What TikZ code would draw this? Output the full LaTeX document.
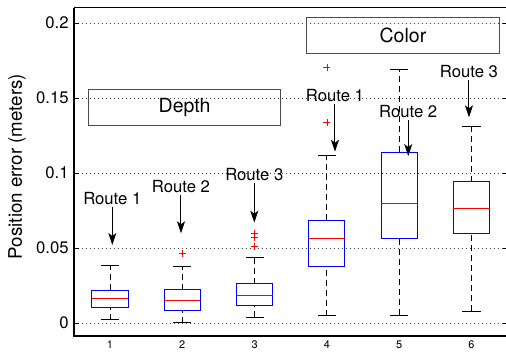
\documentclass[tikz,border=0pt]{standalone}
\usepackage{fontspec}
\setmainfont{TeX Gyre Heros}
\usetikzlibrary{arrows.meta}

\begin{document}
\begin{tikzpicture}[x=72.3pt, y=1500pt,
    gridl/.style={black!75, line width=0.7pt, dash pattern=on 0.8pt off 3.2pt},
    axisl/.style={black, line width=1.8pt},
    whisk/.style={black, line width=0.9pt, dash pattern=on 6pt off 4pt},
    capl/.style={black, line width=0.9pt},
    bx/.style={blue, line width=1pt},
    med/.style={red, line width=1pt},
    outl/.style={red, line width=0.8pt},
    ytick/.style={anchor=east, inner sep=0pt, font=\fontsize{16.7}{20}\selectfont},
    xtick/.style={anchor=north, inner sep=0pt, font=\fontsize{11}{13}\selectfont},
    route/.style={inner sep=2pt, font=\fontsize{16.7}{20}\selectfont},
    tagbox/.style={draw=black!70, line width=0.9pt, minimum width=192.6pt, minimum height=36.5pt,
                   inner sep=0pt, font=\fontsize{19.5}{23}\selectfont},
    arr/.style={-{Stealth[length=12pt,width=8pt,inset=3pt]}, line width=1pt}]
                            \useasboundingbox (-0.5214, -0.01933) rectangle (6.4772, 0.21533);
                            % Grid, ticks and axes:
                            \foreach \v/\t in {0/0, 0.05/0.05, 0.1/0.1, 0.15/0.15, 0.2/0.2}{
                                \draw[gridl] (0.5, \v) -- (6.5, \v);
                                \draw[capl] (0.5, \v) -- ++(5pt, 0) (6.5, \v) -- ++(-5pt, 0);
                                \node[ytick] (y\t) at ([xshift=-5pt]0.5, \v) {\t};
                            }
                            \draw[line width=1pt] (0.5, 0.21) -- (6.5, 0.21);
                            \draw[axisl] (0.5, 0.21) -- (0.5, -0.00847) -- (6.5, -0.00847);
                            % Boxes: i / lower / q1 / median / q3 / upper
                            \foreach \i/\lo/\qa/\md/\qb/\hi in {1/0.0022/0.0102/0.0162/0.0218/0.0382,
                                    2/0.0002/0.0084/0.0149/0.0222/0.038, 3/0.004/0.012/0.0184/0.0262/0.044,
                                    4/0.0047/0.0378/0.0565/0.0685/0.1118, 5/0.0051/0.056/0.0795/0.1138/0.1693,
                                    6/0.0078/0.0598/0.076/0.0942/0.1313}{
                                \draw[whisk] (\i, \lo) -- (\i, \qa) (\i, \qb) -- (\i, \hi);
                                \draw[capl] (\i-0.125, \lo) -- (\i+0.125, \lo) (\i-0.125, \hi) -- (\i+0.125, \hi);
                                \draw[bx] (\i-0.25, \qa) rectangle (\i+0.25, \qb);
                                \draw[med] (\i-0.25, \md) -- (\i+0.25, \md);
                                \node[xtick] (x\i) at (\i, -0.0118) {\i};
                            }
                            \foreach \p in {(2, 0.0464), (3, 0.0595), (3, 0.0571), (3, 0.0509), (4, 0.1335), (4, 0.1705)}{
                                \draw[outl] \p ++(-3.5pt, 0) -- ++(7pt, 0) \p ++(0, -3.5pt) -- ++(0, 7pt);
                            }
                            % Labels and arrows:
                            \node[rotate=90, font=\fontsize{18.7}{22}\selectfont] (ylab) at (-0.286, 0.1043) {Position error (meters)};
                            \node[tagbox] (depth) at (2.032, 0.14355) {Depth};
                            \node[tagbox] (color) at (5.052, 0.19165) {Color};
                            \node[route] (r1) at (1.032, 0.0827) {Route 1};
                            \node[route] (r2) at (1.982, 0.0909) {Route 2};
                            \node[route] (r3) at (2.996, 0.0987) {Route 3};
                            \node[route] (r4) at (4.112, 0.1513) {Route 1};
                            \node[route] (r5) at (5.125, 0.1409) {Route 2};
                            \node[route] (r6) at (5.965, 0.1675) {Route 3};
                            \coordinate (t1) at (1.032, 0.052);
                            \coordinate (t2) at (1.982, 0.0598);
                            \coordinate (t3) at (2.996, 0.0669);
                            \coordinate (t4) at (4.112, 0.1142);
                            \coordinate (t5) at (5.125, 0.1113);
                            \coordinate (t6) at (5.965, 0.1371);
                            \draw[arr] (r1) -- (t1);
                            \draw[arr] (r2) -- (t2);
                            \draw[arr] (r3) -- (t3);
                            \draw[arr] (r4) -- (t4);
                            \draw[arr] (r5) -- (t5);
                            \draw[arr] (r6) -- (t6);
                        \end{tikzpicture}
\end{document}
